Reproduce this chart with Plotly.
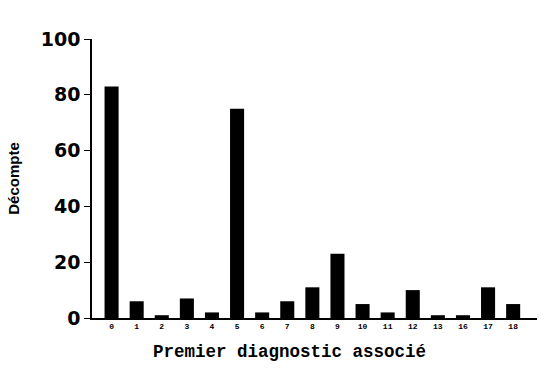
import plotly.graph_objects as go

categories = ["0", "1", "2", "3", "4", "5", "6", "7", "8", "9", "10", "11", "12", "13", "16", "17", "18"]
counts = [83, 6, 1, 7, 2, 75, 2, 6, 11, 23, 5, 2, 10, 1, 1, 11, 5]
y_ticks = [0, 20, 40, 60, 80, 100]

fig = go.Figure(go.Bar(x=categories, y=counts, marker=dict(color="black", line=dict(width=0))))

fig.update_layout(
    width=549, height=375,
    margin=dict(l=89, r=12, t=39, b=57),
    paper_bgcolor="white", plot_bgcolor="white",
    bargap=0.44,
    showlegend=False,
    font=dict(family="Liberation Mono", color="black"),
    xaxis=dict(
        type="category",
        range=[-0.78, 16.95],
        showline=True, linecolor="black", linewidth=1.5,
        ticks="", tickfont=dict(size=8, family="Liberation Mono", weight="bold"),
        showgrid=False, zeroline=False,
    ),
    yaxis=dict(
        range=[0, 100],
        tickvals=y_ticks,
        showline=True, linecolor="black", linewidth=1.5,
        ticks="outside", ticklen=6, tickwidth=1.2, tickcolor="black",
        tickfont=dict(size=19, family="DejaVu Sans", weight="bold"),
        title=dict(text="<b>Décompte</b>", font=dict(size=15, family="Liberation Sans"), standoff=18),
        showgrid=False, zeroline=False,
    ),
    annotations=[dict(
        text="<b>Premier diagnostic associé</b>",
        xref="paper", yref="paper", x=0.444, y=-0.122,
        xanchor="center", yanchor="middle", showarrow=False,
        font=dict(size=17.5, family="Liberation Mono", color="black"),
    )],
)

fig.write_html("out.html")
